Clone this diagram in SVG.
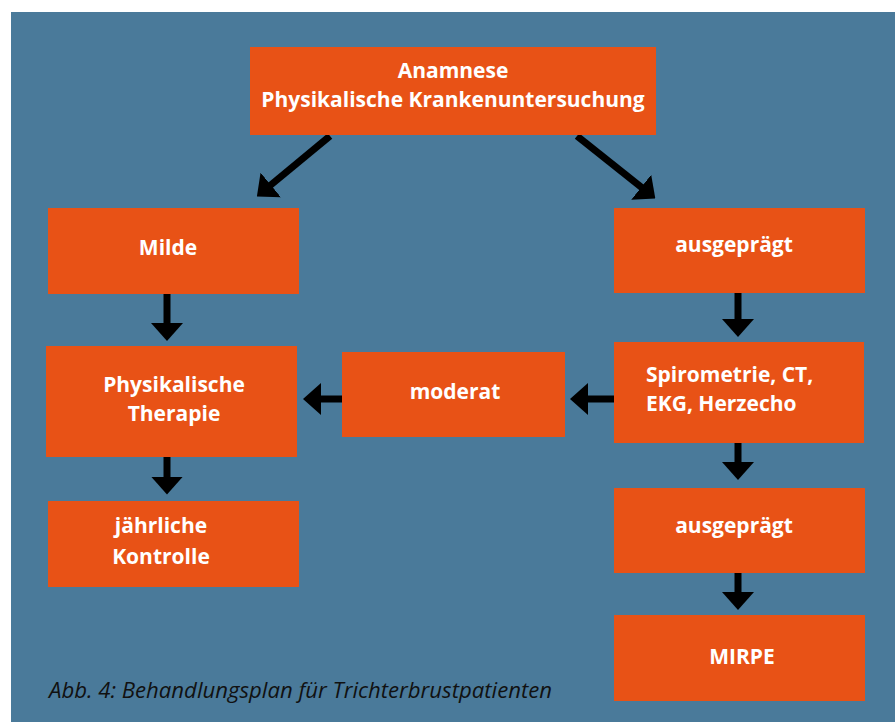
<svg xmlns="http://www.w3.org/2000/svg" width="895" height="722" viewBox="0 0 895 722">
<defs>
<style>
.bg{fill:#4a7a9a}
.box{fill:#e85216}
.t{font-family:"Open Sans","Noto Sans",sans-serif;font-weight:bold;font-size:21px;fill:#fff;text-anchor:middle}
.tl{text-anchor:start}
.cap{font-family:"Open Sans","Noto Sans",sans-serif;font-style:italic;font-size:22px;fill:#111}
.c{stroke:#000;stroke-width:7;fill:none;marker-end:url(#ah)}
</style>
<marker id="ah" viewBox="0 0 18 32" refX="1" refY="16" markerWidth="18" markerHeight="32" markerUnits="userSpaceOnUse" orient="auto">
<path d="M0,0 L18,16 L0,32 z" fill="#000"/>
</marker>
</defs>
<rect x="0" y="0" width="895" height="722" fill="#fff"/>
<rect class="bg" x="11" y="12" width="884" height="710"/>
<g id="connectors">
<line class="c" x1="330" y1="136" x2="270" y2="185.6"/>
<line class="c" x1="577" y1="136" x2="642" y2="187.8"/>
<line class="c" x1="167" y1="294" x2="167" y2="324"/>
<line class="c" x1="167" y1="457" x2="167" y2="477.5"/>
<line class="c" x1="342" y1="399" x2="320" y2="399"/>
<line class="c" x1="614" y1="399" x2="587" y2="399"/>
<line class="c" x1="738" y1="293" x2="738" y2="320"/>
<line class="c" x1="738" y1="443" x2="738" y2="463"/>
<line class="c" x1="738" y1="573" x2="738" y2="593"/>
</g>
<g id="n-anamnese">
<rect class="box" x="250" y="47" width="406" height="88"/>
<text class="t" x="453" y="78">Anamnese</text>
<text class="t" x="453" y="107">Physikalische Krankenuntersuchung</text>
</g>
<g id="n-milde">
<rect class="box" x="48" y="208" width="251" height="86"/>
<text class="t" x="168" y="255">Milde</text>
</g>
<g id="n-therapie">
<rect class="box" x="46" y="346" width="251" height="111"/>
<text class="t" x="174" y="392">Physikalische</text>
<text class="t" x="174" y="421">Therapie</text>
</g>
<g id="n-kontrolle">
<rect class="box" x="48" y="501" width="251" height="86"/>
<text class="t" x="161" y="533">jährliche</text>
<text class="t" x="161" y="564">Kontrolle</text>
</g>
<g id="n-moderat">
<rect class="box" x="342" y="352" width="223" height="85"/>
<text class="t" x="455" y="399">moderat</text>
</g>
<g id="n-ausgepraegt1">
<rect class="box" x="614" y="208" width="251" height="85"/>
<text class="t" x="734" y="252">ausgeprägt</text>
</g>
<g id="n-spiro">
<rect class="box" x="614" y="342" width="250" height="101"/>
<text class="t tl" x="646" y="382">Spirometrie, CT,</text>
<text class="t tl" x="646" y="411">EKG, Herzecho</text>
</g>
<g id="n-ausgepraegt2">
<rect class="box" x="614" y="488" width="251" height="85"/>
<text class="t" x="734" y="533">ausgeprägt</text>
</g>
<g id="n-mirpe">
<rect class="box" x="614" y="615" width="251" height="86"/>
<text class="t" x="742" y="664">MIRPE</text>
</g>
<text class="cap" x="49" y="698" textLength="503" lengthAdjust="spacingAndGlyphs">Abb. 4: Behandlungsplan für Trichterbrustpatienten</text>
</svg>
